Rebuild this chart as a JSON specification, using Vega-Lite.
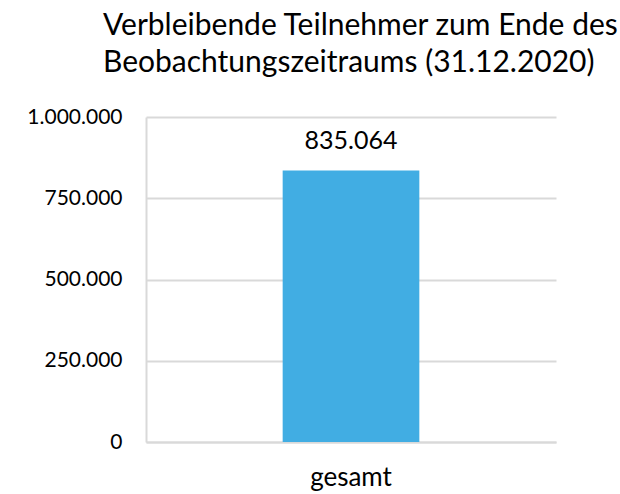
{
  "$schema": "https://vega.github.io/schema/vega-lite/v6.json",
  "width": 410,
  "height": 325,
  "autosize": "none",
  "padding": {"left": 146, "top": 117, "right": 64, "bottom": 52},
  "background": "white",
  "title": {
    "text": ["Verbleibende Teilnehmer zum Ende des", "Beobachtungszeitraums (31.12.2020)"],
    "anchor": "start",
    "frame": "group",
    "dx": -43,
    "offset": 28,
    "font": "Lato",
    "fontSize": 30,
    "fontWeight": "normal",
    "color": "#000000",
    "lineHeight": 37
  },
  "data": {"values": [{"kategorie": "gesamt", "wert": 835064}]},
  "encoding": {
    "x": {
      "field": "kategorie",
      "type": "nominal",
      "scale": {"paddingInner": 0, "paddingOuter": 1},
      "axis": {
        "title": null,
        "labelAngle": 0,
        "labelFont": "Lato",
        "labelFontSize": 26,
        "labelColor": "#000000",
        "labelPadding": 22,
        "ticks": false,
        "domainColor": "#d9d9d9",
        "domainWidth": 2
      }
    },
    "y": {
      "field": "wert",
      "type": "quantitative",
      "scale": {"domain": [0, 1000000]},
      "axis": {
        "title": null,
        "values": [0, 250000, 500000, 750000, 1000000],
        "labelExpr": "replace(format(datum.value, ','), /,/g, '.')",
        "labelFont": "Lato",
        "labelFontSize": 21,
        "labelColor": "#000000",
        "labelPadding": 24,
        "ticks": false,
        "domainColor": "#d9d9d9",
        "domainWidth": 2,
        "gridColor": "#d9d9d9",
        "gridWidth": 2
      }
    }
  },
  "layer": [
    {"mark": {"type": "bar", "color": "#41ADE3"}},
    {
      "mark": {"type": "text", "dy": -17, "font": "Lato", "fontSize": 25, "color": "#000000", "baseline": "bottom"},
      "encoding": {"text": {"field": "wert", "type": "quantitative", "format": ","}}
    }
  ],
  "config": {
    "view": {"stroke": null},
    "locale": {"number": {"decimal": ",", "thousands": ".", "grouping": [3], "currency": ["", " €"]}}
  }
}
